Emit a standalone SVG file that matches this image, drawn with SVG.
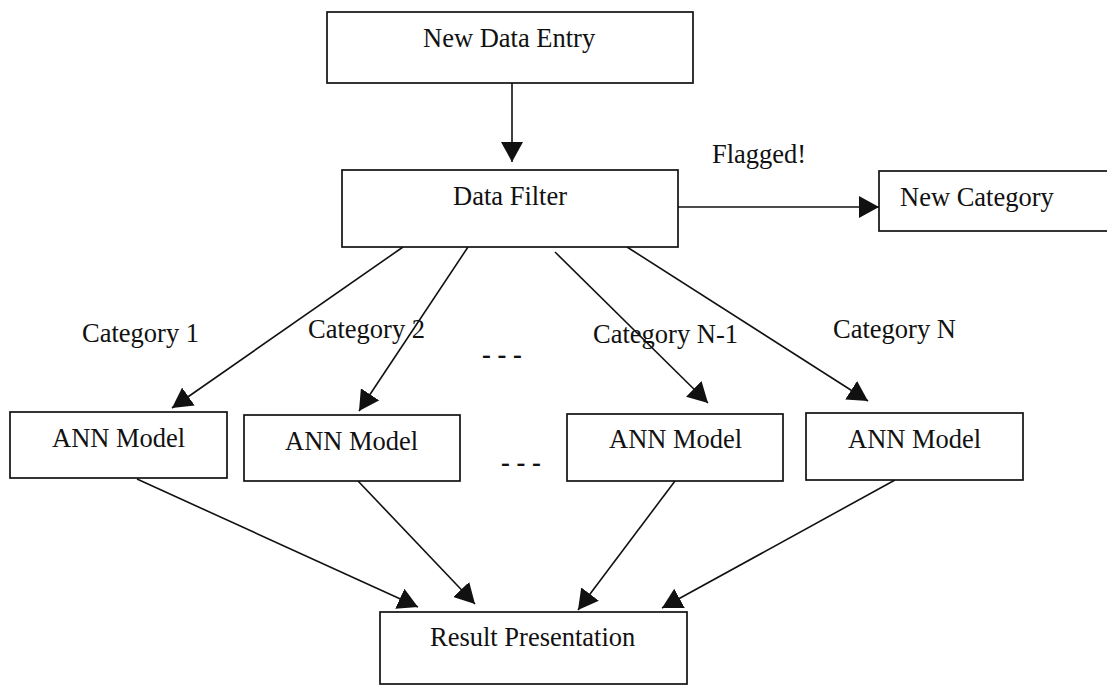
<svg xmlns="http://www.w3.org/2000/svg" width="1107" height="686" viewBox="0 0 1107 686">
  <style>
    .box { fill: #ffffff; stroke: #111111; stroke-width: 1.7; }
    .lbl { font-family: "Liberation Serif", "Times New Roman", serif; font-size: 26.5px; fill: #111111; }
    .dots { font-family: "Liberation Serif", "Times New Roman", serif; font-size: 26.5px; fill: #111111; font-weight: bold; }
    .edge { stroke: #111111; stroke-width: 1.6; fill: none; marker-end: url(#arrow); }
  </style>
  <defs>
    <marker id="arrow" markerUnits="userSpaceOnUse" markerWidth="21" markerHeight="22" refX="20" refY="11" orient="auto">
      <path d="M0,0 L20,11 L0,22 z" fill="#111111"/>
    </marker>
  </defs>
  <rect width="1107" height="686" fill="#ffffff"/>

  <g id="connectors">
    <line class="edge" x1="512" y1="83" x2="512" y2="162"/>
    <line class="edge" x1="678" y1="207" x2="879" y2="207"/>
    <line class="edge" x1="403" y1="247" x2="172" y2="408"/>
    <line class="edge" x1="468" y1="247" x2="359" y2="411"/>
    <line class="edge" x1="555" y1="252" x2="708" y2="403"/>
    <line class="edge" x1="627" y1="247" x2="868" y2="401"/>
    <line class="edge" x1="137" y1="479" x2="418" y2="607"/>
    <line class="edge" x1="358" y1="481" x2="475" y2="604"/>
    <line class="edge" x1="675" y1="481" x2="578" y2="610"/>
    <line class="edge" x1="895" y1="480" x2="662" y2="608"/>
  </g>

  <g id="node-new-data-entry">
    <rect class="box" x="327" y="12" width="366" height="71"/>
    <text class="lbl" x="423" y="47">New Data Entry</text>
  </g>
  <g id="node-data-filter">
    <rect class="box" x="342" y="170" width="336" height="77"/>
    <text class="lbl" x="453" y="205">Data Filter</text>
  </g>
  <g id="node-new-category">
    <rect class="box" x="879" y="171" width="240" height="60"/>
    <text class="lbl" x="900" y="206">New Category</text>
  </g>
  <g id="label-flagged">
    <text class="lbl" x="712" y="163">Flagged!</text>
  </g>
  <g id="labels-categories">
    <text class="lbl" x="82" y="342">Category 1</text>
    <text class="lbl" x="308" y="338">Category 2</text>
    <text class="lbl" x="593" y="343">Category N-1</text>
    <text class="lbl" x="833" y="338">Category N</text>
    <text class="dots" x="482" y="363">- - -</text>
    <text class="dots" x="501" y="471">- - -</text>
  </g>
  <g id="node-ann-1">
    <rect class="box" x="10" y="412" width="217" height="66"/>
    <text class="lbl" x="52" y="447">ANN Model</text>
  </g>
  <g id="node-ann-2">
    <rect class="box" x="244" y="415" width="216" height="66"/>
    <text class="lbl" x="285" y="450">ANN Model</text>
  </g>
  <g id="node-ann-3">
    <rect class="box" x="567" y="414" width="216" height="67"/>
    <text class="lbl" x="609" y="448">ANN Model</text>
  </g>
  <g id="node-ann-4">
    <rect class="box" x="806" y="413" width="217" height="67"/>
    <text class="lbl" x="848" y="448">ANN Model</text>
  </g>
  <g id="node-result-presentation">
    <rect class="box" x="380" y="612" width="307" height="72"/>
    <text class="lbl" x="430" y="646">Result Presentation</text>
  </g>
</svg>
